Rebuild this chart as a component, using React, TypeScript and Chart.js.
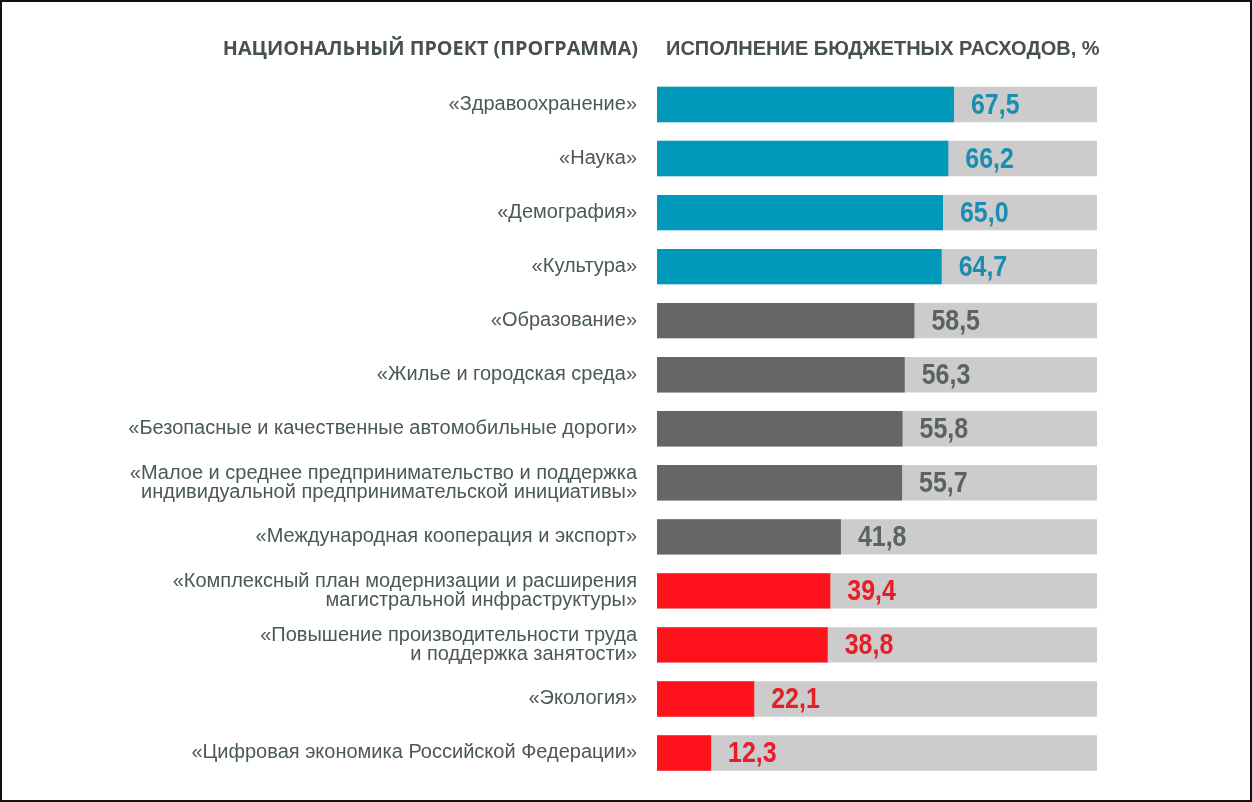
import React, { useEffect, useRef } from "react";
import { Chart, registerables } from "chart.js";

Chart.register(...registerables);

const categories: string[][] = [
  ["«Здравоохранение»"],
  ["«Наука»"],
  ["«Демография»"],
  ["«Культура»"],
  ["«Образование»"],
  ["«Жилье и городская среда»"],
  ["«Безопасные и качественные автомобильные дороги»"],
  ["«Малое и среднее предпринимательство и поддержка", "индивидуальной предпринимательской инициативы»"],
  ["«Международная кооперация и экспорт»"],
  ["«Комплексный план модернизации и расширения", "магистральной инфраструктуры»"],
  ["«Повышение производительности труда", "и поддержка занятости»"],
  ["«Экология»"],
  ["«Цифровая экономика Российской Федерации»"],
];

const values: number[] = [67.5, 66.2, 65.0, 64.7, 58.5, 56.3, 55.8, 55.7, 41.8, 39.4, 38.8, 22.1, 12.3];
const totals: number[] = [100, 100, 100, 100, 100, 100, 100, 100, 100, 100, 100, 100, 100];
const groups: string[] = ["high", "high", "high", "high", "mid", "mid", "mid", "mid", "mid", "low", "low", "low", "low"];

const headerLeft = "НАЦИОНАЛЬНЫЙ ПРОЕКТ (ПРОГРАММА)";
const headerRight = "ИСПОЛНЕНИЕ БЮДЖЕТНЫХ РАСХОДОВ, %";

const barColors: Record<string, string> = { high: "#0099ba", mid: "#666666", low: "#ff121b" };
const textColors: Record<string, string> = { high: "#1a8db0", mid: "#5a6262", low: "#e61e27" };

const fmt = (v: number) => v.toFixed(1).replace(".", ",");

const overlayPlugin = {
  id: "overlay",
  afterDatasetsDraw(chart: any) {
    const ctx = chart.ctx;
    const meta = chart.getDatasetMeta(1);
    const sx = 0.86;
    ctx.save();
    ctx.textBaseline = "middle";
    ctx.textAlign = "left";
    ctx.font = "bold 29px 'Liberation Sans', Arial, sans-serif";
    meta.data.forEach((el: any, i: number) => {
      ctx.save();
      ctx.translate(el.x + 17, el.y + 1);
      ctx.scale(sx, 1);
      ctx.fillStyle = textColors[groups[i]];
      ctx.fillText(fmt(values[i]), 0, 0);
      ctx.restore();
    });
    ctx.restore();
  },
  afterDraw(chart: any) {
    const ctx = chart.ctx;
    const area = chart.chartArea;
    ctx.save();
    ctx.textBaseline = "alphabetic";
    ctx.fillStyle = "#465050";
    ctx.font = "bold 19.8px 'Open Sans', 'Liberation Sans', sans-serif";
    ctx.textAlign = "right";
    ctx.fillText(headerLeft, area.left - 19, 55);
    ctx.font = "bold 20px 'Liberation Sans', Arial, sans-serif";
    ctx.textAlign = "left";
    ctx.fillText(headerRight, area.left + 9, 55);
    ctx.strokeStyle = "#111111";
    ctx.lineWidth = 2;
    ctx.strokeRect(1, 1, chart.width - 2, chart.height - 2);
    ctx.restore();
  },
};

export default function App() {
  const canvasRef = useRef<HTMLCanvasElement | null>(null);

  useEffect(() => {
    if (!canvasRef.current) return;
    const chart = new Chart(canvasRef.current, {
      type: "bar",
      data: {
        labels: categories,
        datasets: [
          {
            label: "total",
            data: totals,
            backgroundColor: "#cccccc",
            grouped: false,
            order: 2,
            barPercentage: 0.655,
            categoryPercentage: 1,
          },
          {
            label: "value",
            data: values,
            backgroundColor: groups.map((g) => barColors[g]),
            grouped: false,
            order: 1,
            barPercentage: 0.655,
            categoryPercentage: 1,
          },
        ],
      },
      options: {
        indexAxis: "y",
        responsive: false,
        animation: false,
        devicePixelRatio: 1,
        layout: { padding: { left: 0, top: 77.5, right: 155, bottom: 22 } },
        plugins: {
          legend: { display: false },
          tooltip: { enabled: false },
          title: { display: false },
        },
        scales: {
          x: { display: false, min: 0, max: 100 },
          y: {
            grid: { display: false, drawTicks: false },
            border: { display: false },
            afterFit(scale: any) {
              scale.width = 657;
              scale.paddingTop = 0;
              scale.paddingBottom = 0;
            },
            ticks: {
              padding: 20,
              color: "#4a5858",
              font: { family: "'Liberation Sans', Arial, sans-serif", size: 20, lineHeight: 0.92 },
            },
          },
        },
      },
      plugins: [overlayPlugin],
    } as any);
    return () => chart.destroy();
  }, []);

  return (
    <div style={{ position: "fixed", left: 0, top: 0, width: 1252, height: 802, background: "#ffffff" }}>
      <canvas ref={canvasRef} width={1252} height={802} style={{ display: "block" }} />
    </div>
  );
}
